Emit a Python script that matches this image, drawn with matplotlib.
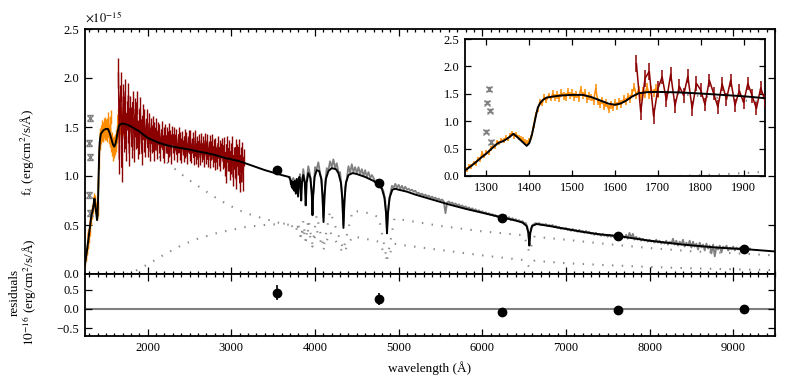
import numpy as np
import matplotlib
matplotlib.use('Agg')
import matplotlib.pyplot as plt
from matplotlib.ticker import MultipleLocator

plt.rcParams['font.family'] = ['Liberation Serif', 'DejaVu Serif']
plt.rcParams['mathtext.fontset'] = 'stix'
plt.rcParams['font.size'] = 9

# ---------------- data (flux in 1e-15 erg/cm2/s/A) ----------------
model = [(1250,0.10),(1262,0.17),(1275,0.25),(1290,0.35),(1300,0.41),(1315,0.52),(1327,0.60),
         (1340,0.64),(1352,0.70),(1363,0.77),(1372,0.71),(1383,0.63),(1394,0.55),(1400,0.60),
         (1406,0.75),(1411,0.93),(1416,1.12),(1420,1.25),(1426,1.34),(1432,1.39),(1440,1.43),
         (1455,1.45),(1475,1.47),(1500,1.48),(1525,1.48),(1545,1.44),(1565,1.38),(1585,1.32),
         (1600,1.30),(1612,1.32),(1625,1.37),(1640,1.45),(1655,1.51),(1675,1.53),(1700,1.535),
         (1750,1.525),(1800,1.505),(1850,1.48),(1900,1.455),(1950,1.42),(2000,1.39),(2050,1.37),
         (2100,1.35),(2200,1.32),(2300,1.30),(2400,1.285),(2500,1.27),(2600,1.25),(2700,1.235),
         (2800,1.215),(2900,1.19),(2960,1.175),(2975,1.18),(2990,1.172),(3100,1.15),(3200,1.12),
         (3300,1.09),(3400,1.06),(3500,1.035),(3600,1.01),(3690,0.99),
         (3705,0.96),(3712,0.92),(3716,0.95),(3722,0.89),(3727,0.94),(3734,0.87),(3740,0.94),
         (3750,0.85),(3758,0.95),(3771,0.82),(3783,0.97),(3798,0.79),(3812,0.99),(3826,0.93),
         (3835,0.75),(3844,0.93),(3860,1.01),(3878,0.93),(3889,0.70),(3900,0.93),(3920,1.03),
         (3945,0.98),(3962,0.80),(3970,0.60),(3978,0.80),(3995,0.99),(4020,1.06),(4050,1.05),
         (4075,0.97),(4090,0.80),(4102,0.53),(4114,0.80),(4130,0.97),(4160,1.05),(4200,1.08),
         (4250,1.07),(4280,1.03),(4310,0.93),(4328,0.75),(4340,0.47),(4352,0.75),(4370,0.93),
         (4400,1.01),(4450,1.03),(4500,1.02),(4600,0.99),(4700,0.95),(4760,0.91),(4800,0.87),
         (4830,0.78),(4850,0.62),(4861,0.415),(4872,0.62),(4892,0.78),(4925,0.86),(4960,0.87),
         (5000,0.86),(5100,0.84),(5200,0.81),(5400,0.76),(5600,0.71),(5800,0.665),(6000,0.625),
         (6200,0.585),(6400,0.545),(6480,0.525),(6530,0.49),(6552,0.42),(6563,0.29),(6574,0.42),
         (6596,0.49),(6650,0.51),(6800,0.49),(7000,0.46),(7200,0.43),(7400,0.405),(7600,0.39),
         (7800,0.365),(8000,0.34),(8200,0.32),(8400,0.30),(8600,0.285),(8800,0.27),(9000,0.26),
         (9200,0.25),(9500,0.23)]
model_wave = [p[0] for p in model]
model_flux = [p[1] for p in model]

hot_wave = [1700,1786,1885,1985,2100,2242,2342,2460,2580,2720,2857,3000,3095,3200,3350,3490,3600,
            3700,3800,3835,3860,3889,3920,3970,4020,4102,4180,4340,4450,4600,4763,4861,4950,5000,
            5500,6000,6500,6563,6620,7000,7500,8000,8500,9000,9500]
hot_flux = [1.53,1.47,1.39,1.32,1.22,1.13,1.06,0.98,0.91,0.83,0.755,0.69,0.65,0.615,0.575,0.54,0.515,
            0.50,0.48,0.36,0.47,0.33,0.46,0.28,0.45,0.25,0.43,0.21,0.385,0.36,0.33,0.15,0.31,0.30,
            0.245,0.19,0.142,0.07,0.135,0.11,0.09,0.072,0.058,0.048,0.04]

cool_wave = [1750,1850,2024,2200,2420,2600,2818,3000,3175,3400,3571,3700,3771,3798,3835,3860,3889,
             3920,3970,4020,4102,4180,4340,4450,4600,4763,4861,4950,5000,5500,6000,6500,6563,6620,
             7000,7500,8000,8500,9000,9500]
cool_flux = [0.0,0.03,0.11,0.20,0.30,0.36,0.415,0.45,0.48,0.50,0.51,0.52,0.43,0.52,0.36,0.54,0.33,
             0.56,0.30,0.60,0.27,0.64,0.25,0.645,0.63,0.58,0.14,0.565,0.56,0.49,0.435,0.395,0.22,0.38,
             0.35,0.305,0.265,0.232,0.212,0.19]

orange_start, orange_step = 1255, 5
orange_flux = [0.12,0.18,0.17,0.24,0.23,0.31,0.30,0.42,0.36,0.44,
               0.43,0.50,0.55,0.54,0.62,0.60,0.66,0.65,0.70,0.68,
               0.74,0.78,0.73,0.76,0.70,0.68,0.66,0.62,0.60,0.64,
               0.70,0.92,1.12,1.22,1.35,1.32,1.44,1.38,1.47,1.41,
               1.50,1.43,1.48,1.42,1.52,1.46,1.44,1.53,1.47,1.51,
               1.44,1.49,1.42,1.58,1.47,1.52,1.40,1.46,1.43,1.37,
               1.60,1.36,1.31,1.38,1.27,1.33,1.22,1.30,1.25,1.34,
               1.28,1.36,1.31,1.40,1.36,1.45,1.41,1.52,1.62,1.47,
               1.58,1.44,1.56,1.50,1.63,1.48,1.57,1.52,1.60,1.49]
orange_err = [0.04]*20 + [0.05]*20 + [0.07]*50

darkred_start, darkred_step = 1650, 10
darkred_flux = [2.05,1.17,1.78,1.91,1.09,1.59,
                1.81,1.38,1.86,1.28,1.64,1.47,1.82,1.23,1.69,1.57,
                1.30,1.75,1.51,1.26,1.68,1.40,1.75,1.29,1.56,1.34,1.69,1.46,1.23,1.61,1.37,
                1.58,1.29,1.48,1.58,1.29,1.44,1.54,1.25,1.49,1.33,1.51,1.25,1.45,1.37,1.49,
                1.26,1.46,1.32,1.44,1.24,1.39,1.47,1.27,1.41,1.22,
                1.44,1.32,1.41,1.23,1.45,1.28,1.38,1.21,1.42,1.32,
                1.42,1.24,1.35,1.40,1.22,1.31,1.42,1.24,1.37,1.21,
                1.38,1.29,1.22,1.40,1.26,1.37,1.20,1.33,1.39,1.23,
                1.39,1.21,1.31,1.37,1.19,1.28,1.39,1.20,1.33,1.17,
                1.35,1.26,1.19,1.36,1.22,1.33,1.17,1.30,1.36,1.20,
                1.35,1.17,1.28,1.34,1.16,1.24,1.35,1.17,1.30,1.14,
                1.31,1.22,1.15,1.33,1.18,1.29,1.13,1.26,1.31,1.15,
                1.31,1.09,1.24,1.02,1.32,1.14,1.28,1.05,1.25,1.11,
                1.32,0.99,1.21,1.07,1.29,0.96,1.24,1.10,1.29,0.93,
                1.21,1.03,1.26,0.94,1.19]
darkred_err = [0.15]*6 + [0.13]*10 + [0.12]*15 + [0.10]*15 + [0.09]*20 + [0.08]*60 + [0.09]*25

grey_start, grey_step = 3700, 20
grey_flux = [0.99,0.93,0.98,0.94,0.97,0.85,1.02,0.88,1.07,0.92,
             0.95,1.10,1.02,0.86,0.82,1.09,1.07,1.14,1.03,0.96,
             0.58,0.90,1.08,1.06,1.15,1.09,1.17,1.08,1.13,1.04,
             1.04,0.86,0.50,0.88,0.97,1.10,1.03,1.12,1.04,1.09,
             1.03,1.09,1.02,1.07,1.00,1.06,0.99,1.04,0.98,1.01,
             0.98,0.94,0.96,0.91,0.90,0.88,0.84,0.75,0.45,0.70,
             0.82,0.90,0.88,0.92,0.88,0.91,0.87,0.90,0.86,0.89,
             0.86,0.87,0.85,0.86,0.84,0.85,0.82,0.83,0.81,0.82,
             0.80,0.81,0.79,0.80,0.78,0.79,0.77,0.78,0.76,0.77,
             0.75,0.76,0.74,0.62,0.73,0.74,0.72,0.73,0.71,0.72,
             0.70,0.71,0.69,0.70,0.68,0.69,0.67,0.68,0.66,0.67,
             0.65,0.66,0.64,0.65,0.63,0.64,0.62,0.63,0.61,0.62,
             0.60,0.61,0.59,0.60,0.58,0.59,0.57,0.59,0.58,0.60,
             0.56,0.58,0.55,0.57,0.55,0.56,0.54,0.55,0.53,0.54,
             0.52,0.52,0.48,0.33,0.46,0.50,0.51,0.52,0.51,0.52,
             0.50,0.51,0.50,0.51,0.49,0.50,0.49,0.50,0.48,0.49,
             0.47,0.48,0.46,0.47,0.46,0.47,0.45,0.46,0.44,0.46,
             0.44,0.45,0.43,0.45,0.43,0.44,0.42,0.44,0.42,0.43,
             0.41,0.42,0.40,0.42,0.40,0.41,0.39,0.41,0.39,0.40,
             0.38,0.40,0.38,0.39,0.37,0.39,0.37,0.38,0.36,0.39,
             0.37,0.40,0.36,0.42,0.37,0.41,0.35,0.38,0.35,0.37,
             0.34,0.36,0.34,0.35,0.33,0.35,0.33,0.34,0.32,0.35,
             0.32,0.34,0.31,0.33,0.31,0.34,0.30,0.33,0.31,0.36,
             0.30,0.34,0.29,0.33,0.30,0.35,0.28,0.32,0.29,0.34,
             0.27,0.33,0.28,0.31,0.25,0.32,0.27,0.30,0.24,0.31,
             0.26,0.29,0.21,0.30,0.18,0.28,0.25,0.29,0.22,0.28,
             0.26,0.29,0.24,0.27,0.25,0.28,0.24,0.27,0.25,0.27,
             0.24,0.26,0.25,0.27,0.24,0.26]

star_wave = [1305, 1302, 1308, 1300, 1310]
star_flux = [1.59, 1.34, 1.19, 0.81, 0.62]
star_err = [0.03, 0.03, 0.03, 0.03, 0.03]

phot_wave = [3544, 4763, 6230, 7619, 9131]
phot_flux = [1.06, 0.925, 0.57, 0.39, 0.26]
phot_err = [0.02, 0.015, 0.005, 0.004, 0.004]
resid = [0.43, 0.26, -0.09, -0.02, -0.01]
resid_err = [0.20, 0.15, 0.05, 0.04, 0.04]

# ---------------- derived grids ----------------
orange_wave = orange_start + orange_step * np.arange(len(orange_flux))
darkred_wave = darkred_start + darkred_step * np.arange(len(darkred_flux))
grey_wave = grey_start + grey_step * np.arange(len(grey_flux))

ORANGE = '#ff8c00'
DARKRED = '#8b0000'
GREY = '#808080'
DOT = '#8c8c8c'

W, H = 789, 390
fig = plt.figure(figsize=(W / 100, H / 100), dpi=100)

def px_axes(l, t, r, b):
    return fig.add_axes([l / W, 1 - b / H, (r - l) / W, (b - t) / H])

ax = px_axes(85, 29, 775, 274)
axr = px_axes(85, 274, 775, 336)
axi = px_axes(465, 39, 765, 176)

def style(a, minor_x=None):
    a.tick_params(which='both', direction='in', top=True, right=True, labelsize=9)
    a.tick_params(which='major', length=5, width=0.9, pad=4)
    a.tick_params(which='minor', length=2.5, width=0.9)
    for s in a.spines.values():
        s.set_linewidth(1.3)
    if minor_x:
        a.xaxis.set_minor_locator(MultipleLocator(minor_x))

def draw_spectra(a, lw_data=1.0):
    a.plot(hot_wave, hot_flux, color=DOT, lw=1.5, ls=(0, (0.7, 4.0)), zorder=1)
    a.plot(cool_wave, cool_flux, color=DOT, lw=1.5, ls=(0, (0.7, 4.0)), zorder=1)
    a.errorbar(orange_wave, orange_flux, yerr=orange_err, fmt='-', color=ORANGE,
               lw=lw_data, elinewidth=lw_data, capsize=0, zorder=2)
    a.errorbar(darkred_wave, darkred_flux, yerr=darkred_err, fmt='-', color=DARKRED,
               lw=lw_data, elinewidth=lw_data, capsize=0, zorder=3)
    a.plot(grey_wave, grey_flux, color=GREY, lw=1.3, zorder=2)
    a.errorbar(star_wave, star_flux, yerr=star_err, fmt='x', color=GREY, ms=4.5,
               mew=1.0, elinewidth=0.8, capsize=2, zorder=3)
    a.plot(model_wave, model_flux, color='black', lw=1.4, zorder=5)

# main panel
draw_spectra(ax)
ax.errorbar(phot_wave, phot_flux, yerr=phot_err, fmt='o', color='black', ms=6,
            elinewidth=1, capsize=0, zorder=6)
ax.set_xlim(1250, 9500)
ax.set_ylim(0, 2.5)
ax.xaxis.set_major_locator(MultipleLocator(1000))
ax.yaxis.set_major_locator(MultipleLocator(0.5))
style(ax, minor_x=100)
ax.tick_params(labelbottom=False)
ax.text(0.0, 1.012, r'$\times10^{-15}$', transform=ax.transAxes, ha='left', va='bottom', fontsize=9)

# residual panel
axr.axhline(0, color=GREY, lw=1.5, zorder=1)
axr.errorbar(phot_wave, resid, yerr=resid_err, fmt='o', color='black', ms=6,
             elinewidth=1.2, capsize=0, zorder=3)
axr.set_xlim(1250, 9500)
axr.set_ylim(-0.71, 0.92)
axr.xaxis.set_major_locator(MultipleLocator(1000))
axr.set_yticks([-0.5, 0.0, 0.5])
axr.set_yticklabels(['\u22120.5', '0.0', '0.5'])
style(axr, minor_x=100)

# inset
axi.set_facecolor('white')
draw_spectra(axi, lw_data=1.1)
axi.set_xlim(1250, 1950)
axi.set_ylim(0, 2.5)
axi.xaxis.set_major_locator(MultipleLocator(100))
axi.yaxis.set_major_locator(MultipleLocator(0.5))
style(axi)
axi.tick_params(which='major', length=4)
axi.set_zorder(10)

# labels
fig.text(28 / W, 1 - 152 / H, r'f$_\lambda$ (erg/cm$^2$/s/Å)', rotation=90,
         ha='center', va='center', fontsize=9.5)
fig.text(24 / W, 1 - 292 / H, 'residuals\n' + r'$10^{-16}$ (erg/cm$^2$/s/Å)', rotation=90,
         ha='center', va='center', fontsize=9.5, multialignment='center', linespacing=1.0)
fig.text(430 / W, 1 - 368 / H, 'wavelength (Å)', ha='center', va='center', fontsize=9.5)

fig.savefig('out.png', dpi=100)
